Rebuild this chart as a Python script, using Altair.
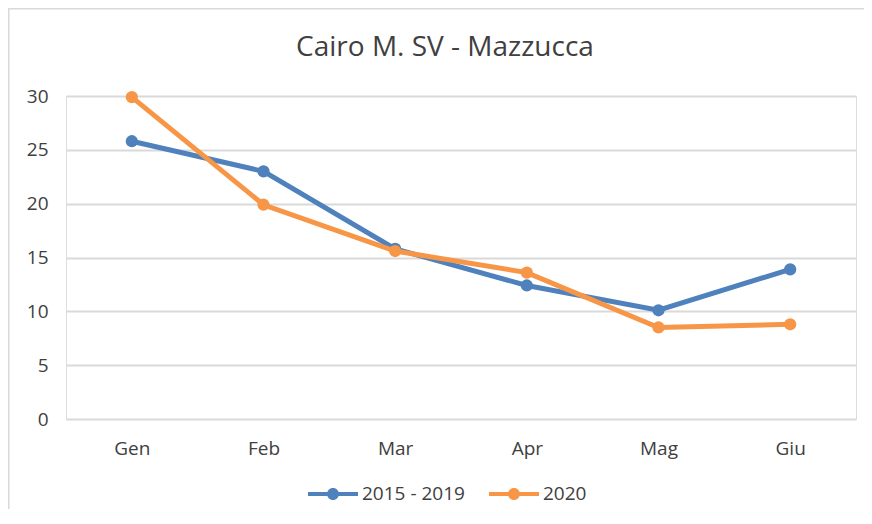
import altair as alt
import pandas as pd

months = ["Gen", "Feb", "Mar", "Apr", "Mag", "Giu"]
series_names = ["2015 - 2019", "2020"]
values_1519 = [25.8, 23.0, 15.8, 12.4, 10.1, 13.9]
values_2020 = [29.9, 19.9, 15.6, 13.6, 8.5, 8.8]
y_ticks = [0, 5, 10, 15, 20, 25, 30]
colors = ["#4F81BD", "#F79646"]

rows = []
for m, v in zip(months, values_1519):
    rows.append({"mese": m, "serie": series_names[0], "valore": v})
for m, v in zip(months, values_2020):
    rows.append({"mese": m, "serie": series_names[1], "valore": v})
df = pd.DataFrame(rows)

FONT = "Open Sans"
TXT = "#404040"

x_enc = alt.X("mese:N", sort=months, title=None,
              scale=alt.Scale(type="point", padding=0.5),
              axis=alt.Axis(domain=False, ticks=False, tickSize=0, grid=False,
                            labelFontSize=19, labelColor=TXT, labelFont=FONT,
                            labelBaseline="alphabetic", labelPadding=35, labelAngle=0))
y_enc = alt.Y("valore:Q", title=None,
              scale=alt.Scale(domain=[0, 30], nice=False),
              axis=alt.Axis(values=y_ticks, domain=False, ticks=False, tickSize=0,
                            grid=True, gridColor="#D9D9D9", gridWidth=2,
                            labelFontSize=19, labelColor=TXT, labelFont=FONT,
                            labelPadding=18))

sym_path = ("M-1,-0.08L1,-0.08L1,0.08L-1,0.08Z "
            "M0.24,0A0.24,0.24 0 1,1 -0.24,0A0.24,0.24 0 1,1 0.24,0Z")

legend = alt.Legend(title=None, orient="none", direction="horizontal",
                    legendX=242, legendY=373,
                    symbolType=sym_path, symbolSize=2500, symbolOpacity=1,
                    symbolStrokeWidth=0,
                    labelFontSize=19, labelFont=FONT, labelColor=TXT,
                    labelOffset=4, columnPadding=24)

color_pt = alt.Color("serie:N", scale=alt.Scale(domain=series_names, range=colors), legend=legend)

frame = alt.Chart(alt.Data(values=[{"a": 1}])).mark_rect(
    fill="transparent", stroke="#D9D9D9", strokeWidth=1.5
).encode(x=alt.value(-57.25), x2=alt.value(900), y=alt.value(-87.25), y2=alt.value(700))

layers = [frame]
for name, col in zip(series_names, colors):
    base = alt.Chart(df).transform_filter(alt.datum.serie == name)
    layers.append(base.mark_line(strokeWidth=5, color=col).encode(x=x_enc, y=y_enc))
    layers.append(base.mark_point(filled=True, size=150, opacity=1).encode(
        x=x_enc, y=y_enc, color=color_pt))

chart = alt.layer(*layers).properties(
    width=790, height=323,
    title=alt.TitleParams("Cairo M. SV - Mazzucca", fontSize=28, font=FONT,
                          fontWeight="normal", color=TXT, anchor="middle",
                          frame="group", baseline="alphabetic", offset=-75.7, dx=-16),
    autosize=alt.AutoSizeParams(type="none"),
    padding={"left": 58, "top": 88, "right": 8, "bottom": 90},
).configure_view(stroke=None).configure(background="white")

chart.save("out.html", embed_options={"renderer": "svg", "actions": False})
